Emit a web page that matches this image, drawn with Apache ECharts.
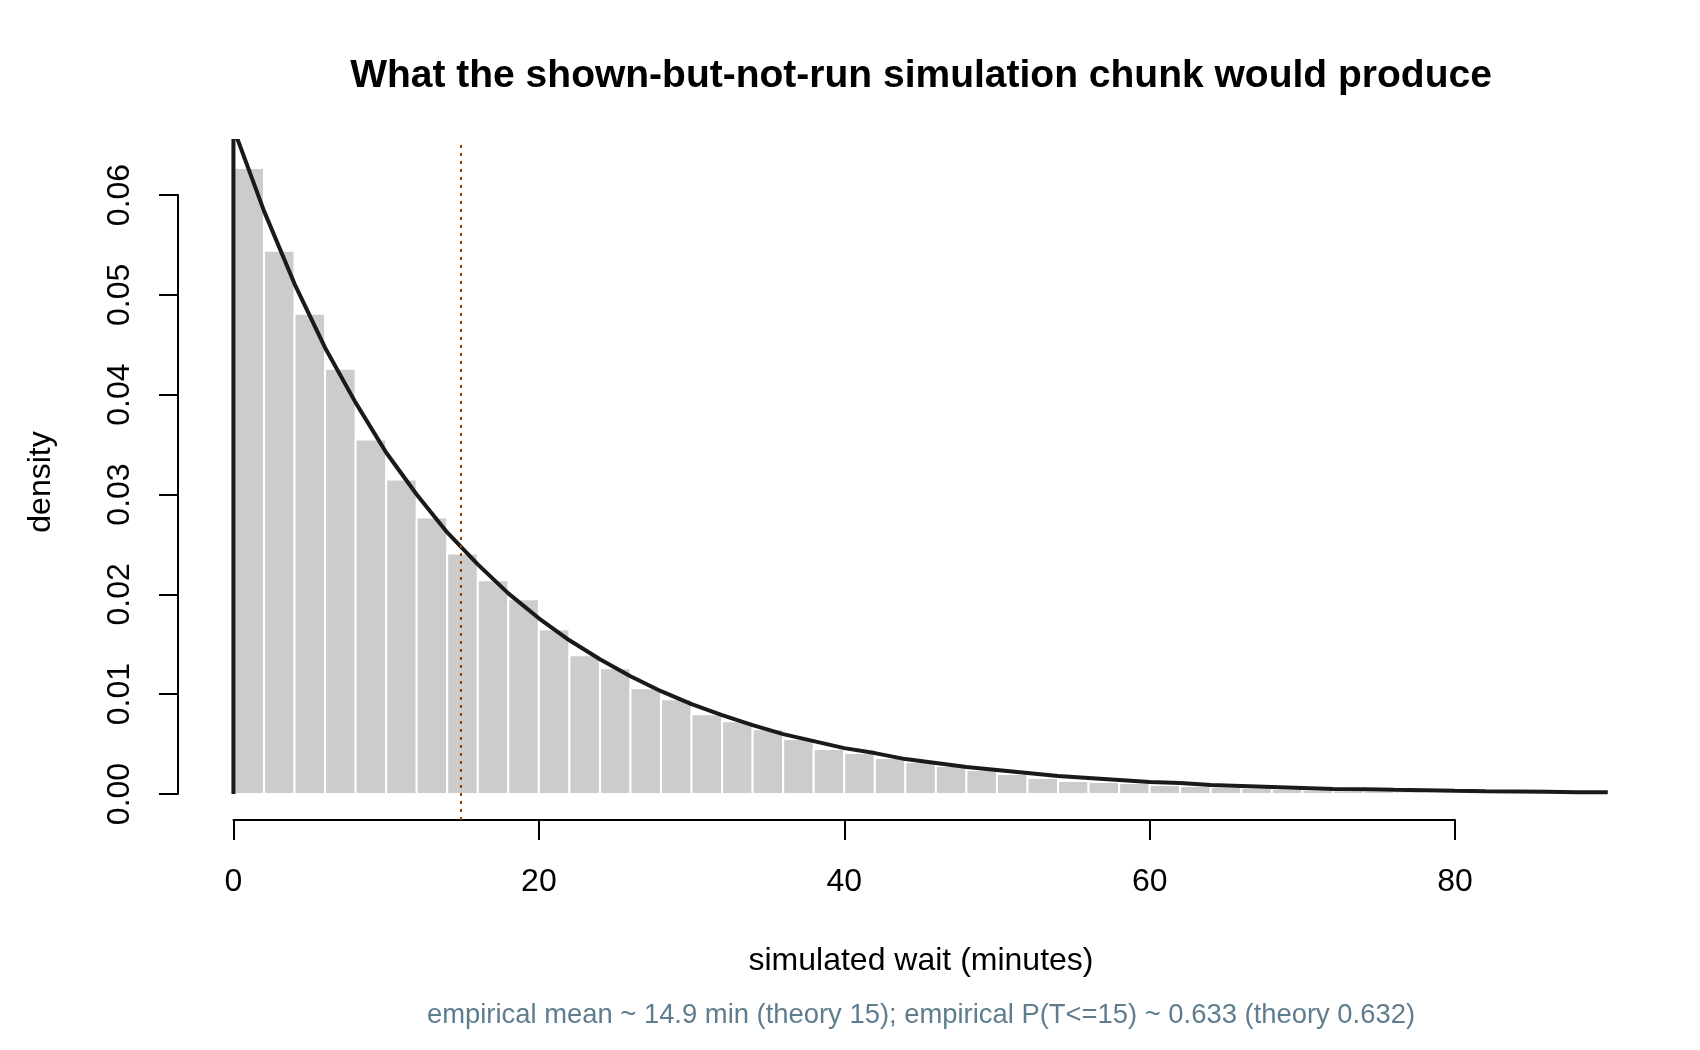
<!DOCTYPE html>
<html>
<head>
<meta charset="utf-8">
<title>simulated wait histogram</title>
<script src="https://cdn.jsdelivr.net/npm/echarts@6/dist/echarts.min.js"></script>
<style>
  html, body { margin: 0; padding: 0; background: #ffffff; }
  #container { width: 1700px; height: 1050px; }
</style>
</head>
<body>
<div id="container"></div>
<script>
// histogram bins (width 2 minutes) and their densities
var binLeft = [0, 2, 4, 6, 8, 10, 12, 14, 16, 18, 20, 22, 24, 26, 28, 30, 32, 34, 36, 38,
  40, 42, 44, 46, 48, 50, 52, 54, 56, 58, 60, 62, 64, 66, 68, 70, 72, 74, 76, 78,
  80, 82, 84, 86, 88, 90];
var binDensity = [0.0627, 0.0544, 0.0481, 0.0426, 0.0355, 0.0315, 0.0277, 0.0241, 0.0214, 0.0195,
  0.0165, 0.0139, 0.0126, 0.0106, 0.0095, 0.0080, 0.0073, 0.0065, 0.0055, 0.0045,
  0.0041, 0.0036, 0.0032, 0.0028, 0.0024, 0.0020, 0.0016, 0.0013, 0.0012, 0.0011,
  0.0009, 0.0008, 0.0007, 0.0006, 0.0005, 0.0004, 0.00035, 0.0003, 0.00025, 0.0002,
  0.00018, 0.00015, 0.00012, 0.0001, 0.00008, 0.00005];
var binWidth = 2;

// theoretical density curve
var curveX = [0, 0, 2, 4, 6, 8, 10, 12, 14, 16, 18, 20, 22, 24, 26, 28, 30, 32, 34, 36, 38,
  40, 42, 44, 46, 48, 50, 52, 54, 56, 58, 60, 62, 64, 66, 68, 70, 72, 74, 76, 78,
  80, 82, 84, 86, 88, 90];
var curveY = [0, 0.0667, 0.0584, 0.0511, 0.0447, 0.0392, 0.0342, 0.0300, 0.0262, 0.0230, 0.0201,
  0.0176, 0.0154, 0.0135, 0.0118, 0.0103, 0.0090, 0.0079, 0.0069, 0.0060, 0.0053,
  0.0046, 0.0041, 0.0035, 0.0031, 0.0027, 0.0024, 0.0021, 0.0018, 0.0016, 0.0014,
  0.0012, 0.0011, 0.0009, 0.0008, 0.0007, 0.0006, 0.0005, 0.00048, 0.00042, 0.00037,
  0.00032, 0.00028, 0.00025, 0.00022, 0.00019, 0.00017];

var empiricalMean = 14.9;
var xTicks = [0, 80, 20];        // min, max, step
var yTicks = [0, 0.06, 0.01];

var titleText = 'What the shown-but-not-run simulation chunk would produce';
var xName = 'simulated wait (minutes)';
var yName = 'density';
var subText = 'empirical mean ~ 14.9 min (theory 15); empirical P(T<=15) ~ 0.633 (theory 0.632)';

var FONT = '"Liberation Sans", Arial, sans-serif';

var histData = binLeft.map(function (lo, i) {
  return [lo, lo + binWidth, binDensity[i]];
});
var curveData = curveX.map(function (x, i) {
  return [x, curveY[i]];
});

var myChart = echarts.init(document.getElementById('container'));

myChart.setOption({
  animation: false,
  backgroundColor: '#ffffff',
  grid: [
    // plot region
    { left: 178, width: 1486, top: 141, height: 679 },
    // x axis, drawn only from 0 to 80 like base R
    { left: 233.5, width: 1221.6, top: 780, height: 40 },
    // y axis, drawn only from 0 to 0.06
    { left: 178, width: 100, top: 195, height: 599 }
  ],
  xAxis: [
    { gridIndex: 0, type: 'value', min: -3.63, max: 93.68, show: false },
    {
      gridIndex: 1, type: 'value', min: xTicks[0], max: xTicks[1], interval: xTicks[2],
      position: 'bottom',
      axisLine: { show: true, lineStyle: { color: '#000', width: 2 } },
      axisTick: { show: true, length: 20, lineStyle: { color: '#000', width: 2 } },
      axisLabel: { color: '#000', fontSize: 32, fontFamily: FONT, margin: 46 },
      splitLine: { show: false }
    },
    { gridIndex: 2, type: 'value', show: false }
  ],
  yAxis: [
    { gridIndex: 0, type: 'value', min: -0.0026, max: 0.0654, show: false },
    { gridIndex: 1, type: 'value', show: false },
    {
      gridIndex: 2, type: 'value', min: yTicks[0], max: yTicks[1], interval: yTicks[2],
      position: 'left',
      axisLine: { show: true, lineStyle: { color: '#000', width: 2 } },
      axisTick: { show: true, length: 19, lineStyle: { color: '#000', width: 2 } },
      axisLabel: {
        color: '#000', fontSize: 32, fontFamily: FONT, margin: 42, rotate: 90,
        formatter: function (v) { return v.toFixed(2); }
      },
      splitLine: { show: false }
    }
  ],
  graphic: [
    {
      type: 'text', x: 921, y: 76,
      style: { text: titleText, fontSize: 39, fontWeight: 'bold', fontFamily: FONT,
        fill: '#000', align: 'center', verticalAlign: 'middle' }
    },
    {
      type: 'text', x: 921, y: 961,
      style: { text: xName, fontSize: 32, fontFamily: FONT,
        fill: '#000', align: 'center', verticalAlign: 'middle' }
    },
    {
      type: 'text', x: 921, y: 1015,
      style: { text: subText, fontSize: 27.4, fontFamily: FONT,
        fill: '#5f7d8e', align: 'center', verticalAlign: 'middle' }
    },
    {
      type: 'text', x: 41, y: 482, rotation: Math.PI / 2,
      style: { text: yName, fontSize: 32, fontFamily: FONT,
        fill: '#000', align: 'center', verticalAlign: 'middle' }
    }
  ],
  series: [
    {
      type: 'custom',
      xAxisIndex: 0, yAxisIndex: 0,
      data: histData,
      encode: { x: [0, 1], y: 2 },
      renderItem: function (params, api) {
        var top = api.coord([api.value(0), api.value(2)]);
        var bottom = api.coord([api.value(1), 0]);
        return {
          type: 'rect',
          shape: { x: top[0], y: top[1], width: bottom[0] - top[0], height: bottom[1] - top[1] },
          style: { fill: '#cccccc', stroke: '#ffffff', lineWidth: 2 }
        };
      },
      z: 1
    },
    {
      type: 'line',
      xAxisIndex: 0, yAxisIndex: 0,
      data: curveData,
      showSymbol: false,
      symbol: 'none',
      clip: true,
      lineStyle: { color: '#1a1a1a', width: 4 },
      z: 2,
      markLine: {
        silent: true,
        symbol: ['none', 'none'],
        label: { show: false },
        lineStyle: { color: '#8b4513', width: 2, type: [3, 5] },
        data: [{ xAxis: empiricalMean }],
        z: 3
      }
    }
  ]
});
</script>
</body>
</html>
